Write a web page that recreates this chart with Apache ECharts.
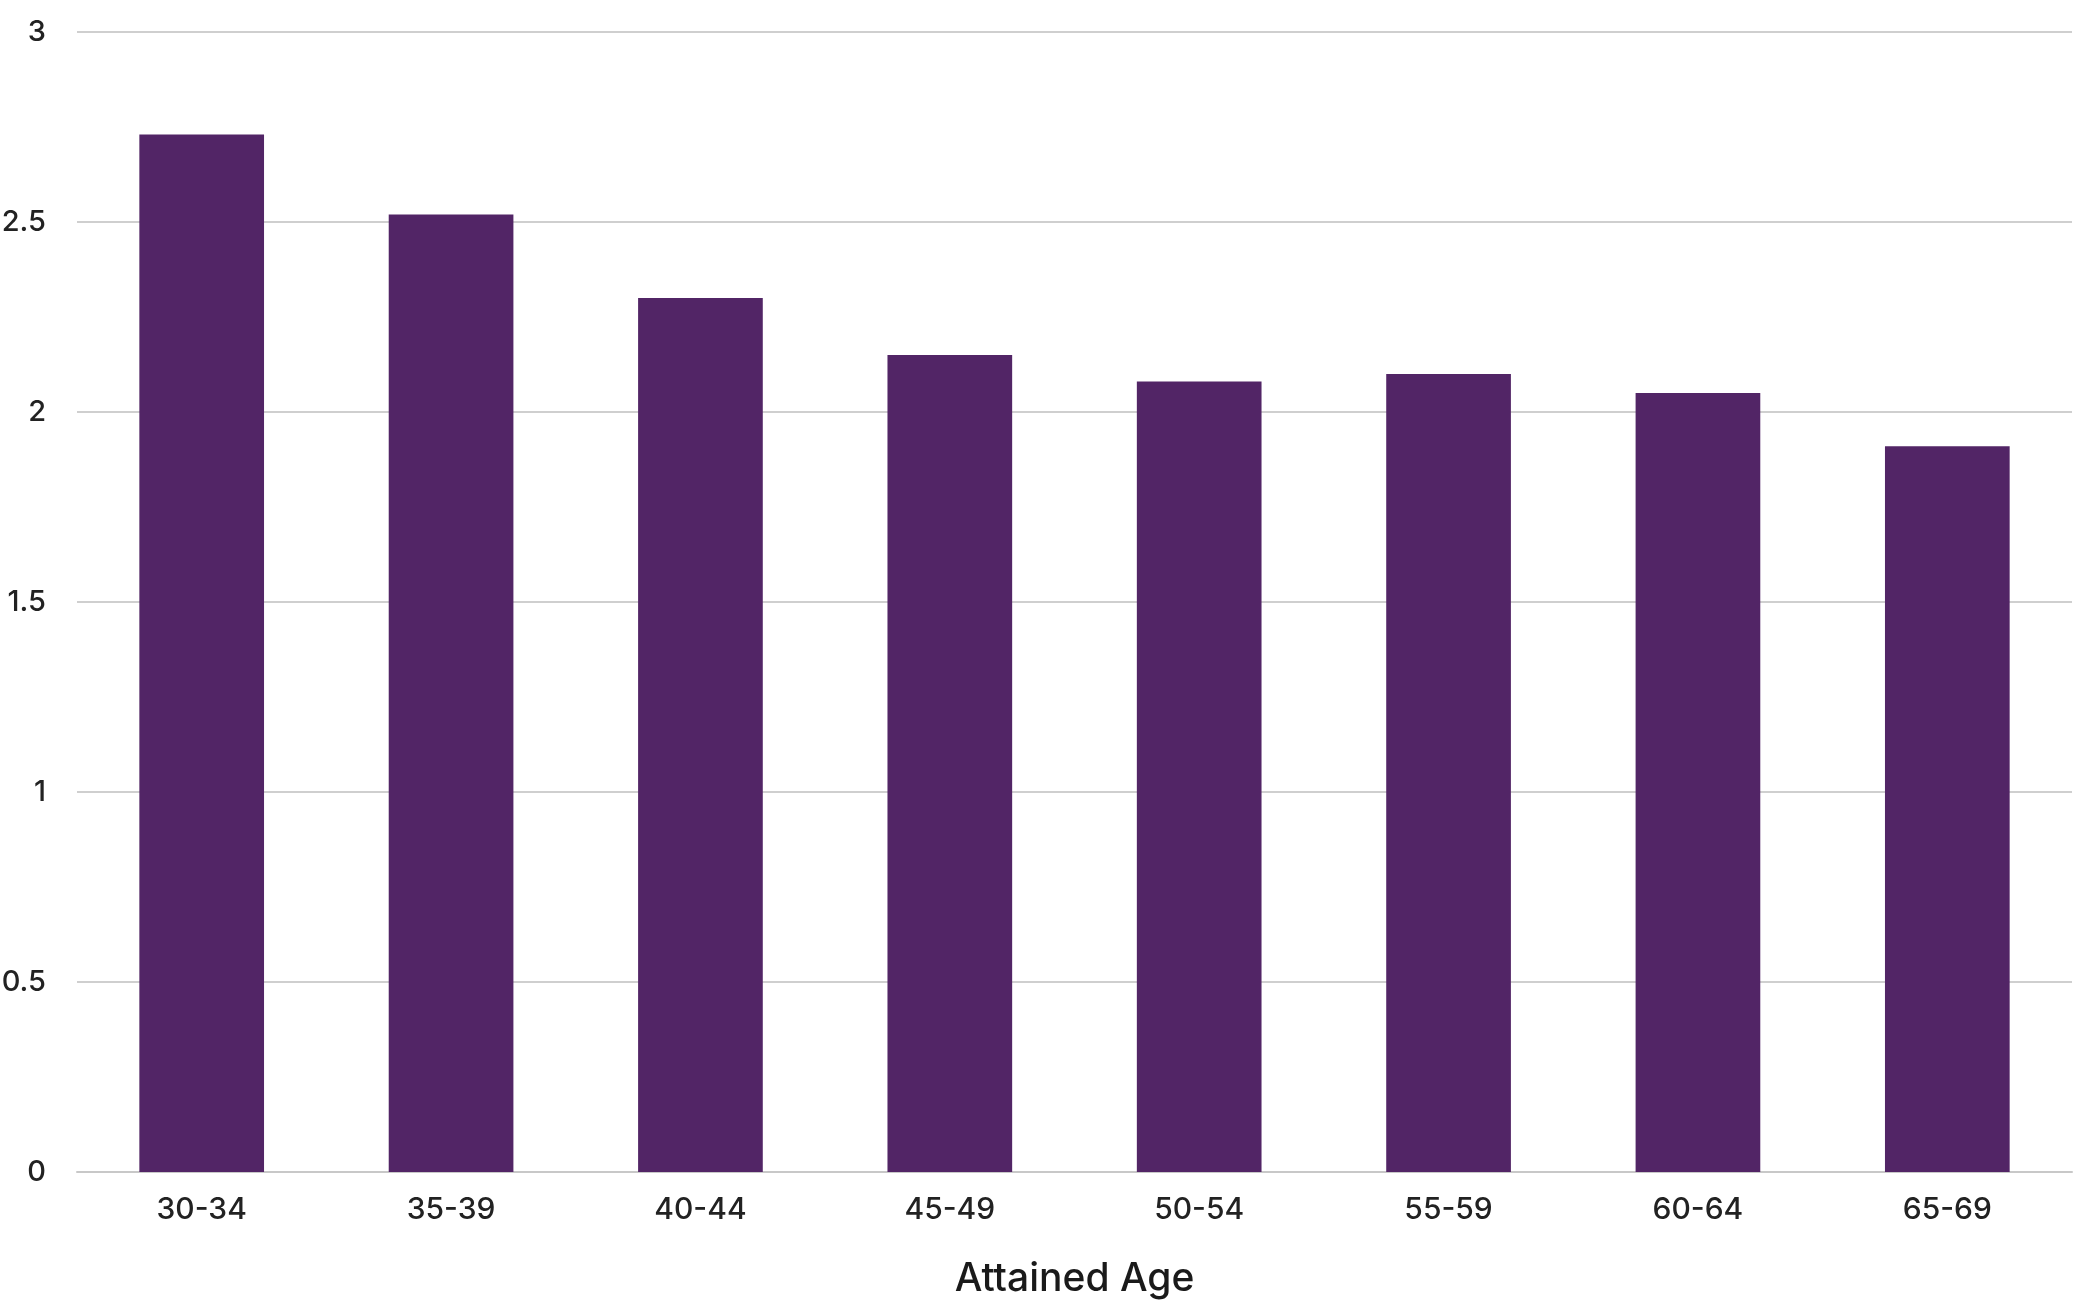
<!DOCTYPE html>
<html>
<head>
<meta charset="utf-8">
<script src="https://cdn.jsdelivr.net/npm/echarts@6/dist/echarts.min.js"></script>
<style>
  html, body { margin: 0; padding: 0; background: #fff; }
  #chart { width: 2076px; height: 1312px; }
</style>
</head>
<body>
<div id="chart"></div>
<script>
const ageGroups = ['30-34', '35-39', '40-44', '45-49', '50-54', '55-59', '60-64', '65-69']
const values = [2.73, 2.52, 2.30, 2.15, 2.08, 2.10, 2.05, 1.91]

const chart = echarts.init(document.getElementById('chart'))

const option = {
  animation: false,
  grid: {
    left: 77,
    right: 4,
    top: 32,
    bottom: 140,
    containLabel: false,
    outerBoundsMode: 'none'
  },
  xAxis: {
    type: 'category',
    data: ageGroups,
    name: 'Attained Age',
    nameLocation: 'middle',
    nameGap: 88,
    nameTextStyle: { fontFamily: 'Inter', fontSize: 39, fontWeight: 500, color: '#1a1a1a' },
    axisLine: { lineStyle: { color: '#c8c8c8', width: 2 } },
    axisTick: { alignWithLabel: true, length: 18, lineStyle: { color: '#c8c8c8', width: 2 } },
    axisLabel: { fontFamily: 'Inter', fontSize: 30, fontWeight: 500, color: '#222', margin: 23 }
  },
  yAxis: {
    type: 'value',
    min: 0,
    max: 3,
    interval: 0.5,
    axisLine: { show: false },
    axisTick: { show: false },
    axisLabel: { fontFamily: 'Inter', fontSize: 29, fontWeight: 500, color: '#222', margin: 31 },
    splitLine: { lineStyle: { color: '#cfcfcf', width: 2 } }
  },
  series: [
    {
      type: 'bar',
      data: values,
      barWidth: '50%',
      itemStyle: { color: '#522566' }
    }
  ]
}

chart.setOption(option)
</script>
</body>
</html>
